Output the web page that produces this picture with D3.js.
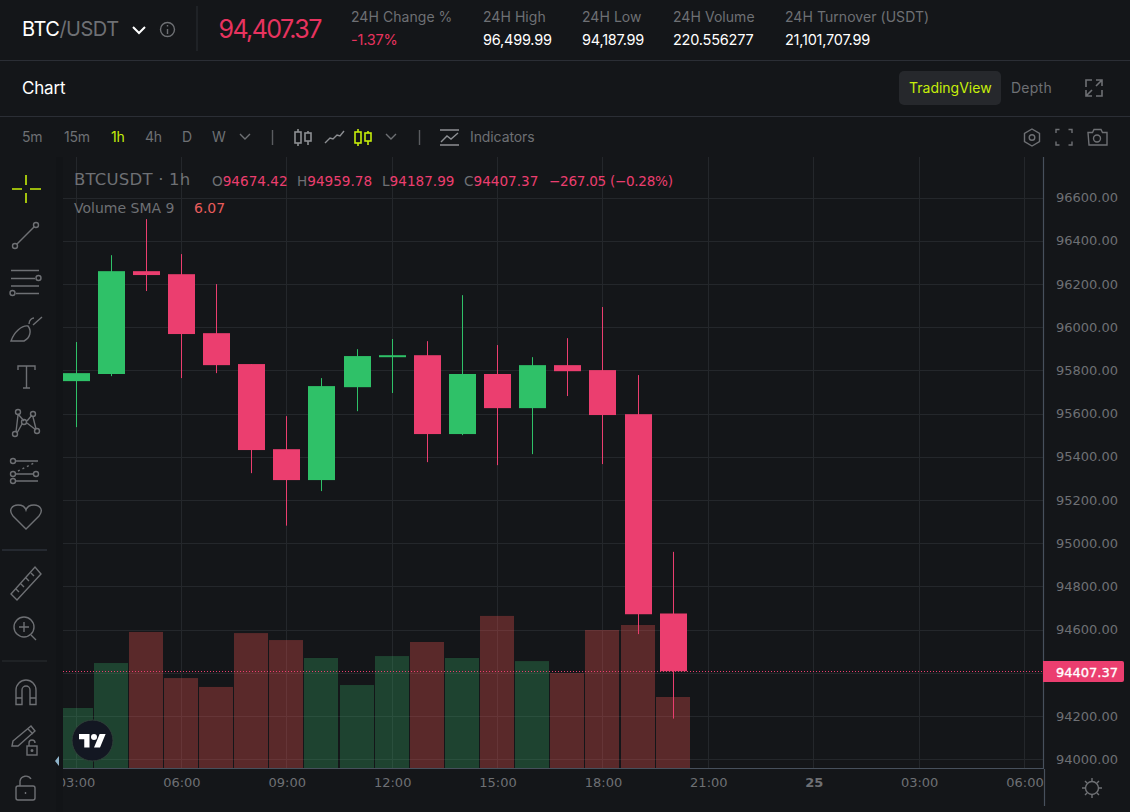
<!DOCTYPE html>
<html>
<head>
<meta charset="utf-8">
<script src="https://cdn.jsdelivr.net/npm/d3@7"></script>
<style>
  html, body { margin: 0; padding: 0; background: #141619; overflow: hidden; }
  svg { display: block; }
  .ui { font-family: Inter, "Noto Sans", sans-serif; }
  .tv { font-family: "DejaVu Sans", sans-serif; white-space: pre; }
  .icon { fill: none; stroke: #6e7074; stroke-width: 1.4; }
</style>
</head>
<body>
<div id="chart"></div>
<script>
// Candle data, one entry per hour starting at 03:00
var opens  = [95750, 95783, 96259, 96245, 95972, 95829, 95435, 95292, 95722, 95861, 95870, 95505, 95783, 95625, 95824, 95801, 95597, 94674.42];
var highs  = [95931, 96333, 96499.99, 96338, 96199, 95829, 95588, 95764, 95898, 95945, 95935, 96148, 95917, 95861, 95949, 96093, 95778, 94959.78];
var lows   = [95537, 95773, 96167, 95764, 95787, 95324, 95081, 95241, 95611, 95695, 95375, 95500, 95361, 95412, 95681, 95366, 94579, 94187.99];
var closes = [95787, 96259, 96241, 95968, 95824, 95431, 95292, 95727, 95866, 95870, 95505, 95783, 95625, 95824, 95796, 95593, 94671, 94407.37];
var volumes = [3.11, 5.44, 7.05, 4.66, 4.20, 6.99, 6.63, 5.70, 4.30, 5.80, 6.53, 5.70, 7.88, 5.54, 4.92, 7.15, 7.41, 3.68];

var priceTicks = [94000, 94200, 94400, 94600, 94800, 95000, 95200, 95400, 95600, 95800, 96000, 96200, 96400, 96600];
var timeTicks = [0, 3, 6, 9, 12, 15, 18, 21, 24, 27];
var timeLabels = ["03:00", "06:00", "09:00", "12:00", "15:00", "18:00", "21:00", "25", "03:00", "06:00"];
var lastPrice = 94407.37;

var headerStats = ["24H Change %", "24H High", "24H Low", "24H Volume", "24H Turnover (USDT)"];
var headerValues = ["-1.37%", "96,499.99", "94,187.99", "220.556277", "21,101,707.99"];
var intervals = ["5m", "15m", "1h", "4h", "D", "W"];
var ohlcKeys = ["O", "H", "L", "C"];
var ohlcValues = ["94674.42", "94959.78", "94187.99", "94407.37"];

var green = "#2fc168";
var red = "#eb3e6f";
var lime = "#c6ee0a";
var gray = "#6e7074";
var bg = "#141619";

var svgWidth = 1130;
var svgHeight = 812;
var pane = { left: 63, right: 1043, top: 157, bottom: 768 };

var svg = d3.select("#chart")
  .append("svg")
  .attr("width", svgWidth)
  .attr("height", svgHeight);

svg.append("rect").attr("width", svgWidth).attr("height", svgHeight).attr("fill", bg);

svg.append("defs").append("clipPath").attr("id", "paneClip")
  .append("rect")
  .attr("x", pane.left).attr("y", pane.top)
  .attr("width", pane.right - pane.left).attr("height", svgHeight - pane.top);

// Scales
var xScale = d3.scaleLinear().domain([0, 27]).range([76, 1024.5]);
var yScale = d3.scaleLinear().domain([94000, 96600]).range([759.2, 197.5]);
var volScale = d3.scaleLinear().domain([0, 10]).range([pane.bottom, pane.bottom - 193]);

// snap to the pixel grid so wicks and gridlines stay one pixel wide
function px(i) {
  return Math.floor(xScale(i)) + 0.5;
}

var bodyWidth = 27;
var volWidth = 34;

// ---- header ----
function label(parent, x, y, str, size, fill, cls, spacing) {
  return parent.append("text")
    .attr("class", cls || "ui")
    .attr("x", x).attr("y", y)
    .attr("font-size", size)
    .attr("fill", fill)
    .attr("letter-spacing", spacing || 0)
    .text(str);
}

var head = svg.append("g");
var pair = label(head, 22, 36, "BTC", 20, "#ffffff", "ui", -0.5);
pair.append("tspan").attr("fill", gray).text("/USDT");
head.append("path").attr("class", "icon").style("stroke", "#fff").style("stroke-width", 2)
  .attr("d", "M133 27l6 6l6 -6");
head.append("circle").attr("class", "icon").attr("cx", 167.5).attr("cy", 29.5).attr("r", 7);
head.append("path").attr("class", "icon").attr("d", "M167.5 29v5M167.5 25v1.6");
head.append("line").attr("x1", 197).attr("x2", 197).attr("y1", 6).attr("y2", 51).attr("stroke", "#2a2e35");
label(head, 218.5, 38, "94,407.37", 25, "#e8335f", "ui", -1.6);

var statX = [351, 483, 582, 673, 785];
headerStats.forEach(function(s, i) {
  label(head, statX[i], 22, s, 14, gray, "ui", 0.05);
  label(head, statX[i], 45, headerValues[i], 14.5, i === 0 ? "#e8335f" : "#ffffff", "ui", -0.22);
});

[60.5, 116.5].forEach(function(y) {
  svg.append("line").attr("x1", 0).attr("x2", svgWidth).attr("y1", y).attr("y2", y).attr("stroke", "#2b2e35");
});

label(svg, 22, 94, "Chart", 17, "#ffffff", "ui", -0.2);
svg.append("rect").attr("x", 899).attr("y", 71).attr("width", 102).attr("height", 34).attr("rx", 5).attr("fill", "#26282c");
label(svg, 909, 93, "TradingView", 14, lime, "ui", 0);
label(svg, 1011, 93, "Depth", 14, gray, "ui", 0.25);
svg.append("path").attr("class", "icon").style("stroke-width", 1.6)
  .attr("d", "M1086 87v-7h6M1096 80h6v6M1102 80l-6 6M1086 90v6h6M1086 96l6 -6M1096 96h6v-6");

// ---- interval toolbar ----
var intervalX = [22, 64, 111, 145, 182, 212];
intervals.forEach(function(s, i) {
  label(svg, intervalX[i], 142, s, 14, s === "1h" ? lime : gray, "ui", -0.2);
});

var bar = svg.append("g").attr("class", "icon");
bar.append("path").attr("d", "M240 134l5 5l5 -5M386 134l5 5l5 -5");
bar.append("path").style("stroke", "#5a5c60").attr("d", "M272.5 130v15M419.5 130v15");
// candle style icons
function candleIcon(x, color) {
  var g = bar.append("g").style("stroke", color).style("stroke-width", 1.6);
  g.append("path").attr("d", "M" + (x + 3) + " 129v17M" + (x + 13) + " 131v14");
  g.append("rect").attr("x", x).attr("y", 132).attr("width", 6).attr("height", 11).attr("fill", bg);
  g.append("rect").attr("x", x + 10).attr("y", 133).attr("width", 6).attr("height", 8).attr("fill", bg);
}
candleIcon(295, "#8d8f93");
candleIcon(355, lime);
bar.append("path").style("stroke", "#8d8f93").attr("d", "M325 143l5 -5l3 1l4 -4l3 1l4 -5");
bar.append("path").style("stroke", "#8d8f93").attr("d", "M440 130h19M440 145h19M441 142l6 -6l4 3l7 -6");
label(svg, 470, 142, "Indicators", 14, gray, "ui", -0.1);
// settings, fullscreen, camera
bar.append("path").attr("d", "M1032 129l7.5 4.3v8.4l-7.5 4.3l-7.5 -4.3v-8.4z");
bar.append("circle").attr("cx", 1032).attr("cy", 137.5).attr("r", 2.8);
bar.append("path").attr("d", "M1056 133v-3.5h3.5M1068.5 129.5h3.5v3.5M1072 141.5v3.5h-3.5M1059.5 145h-3.5v-3.5");
bar.append("path").attr("d", "M1088 132.5h4.5l1.5 -3h7l1.5 3h4.5v12.5h-18z");
bar.append("circle").attr("cx", 1097).attr("cy", 138.5).attr("r", 3.5);

// ---- chart pane ----
var grid = svg.append("g").attr("stroke", "#24272b");
grid.selectAll(".h")
  .data(priceTicks)
  .enter()
  .append("line")
  .attr("x1", pane.left).attr("x2", pane.right)
  .attr("y1", d => Math.round(yScale(d)) + 0.5)
  .attr("y2", d => Math.round(yScale(d)) + 0.5);
grid.selectAll(".v")
  .data(timeTicks)
  .enter()
  .append("line")
  .attr("x1", d => px(d))
  .attr("x2", d => px(d))
  .attr("y1", pane.top).attr("y2", pane.bottom);

var plot = svg.append("g").attr("clip-path", "url(#paneClip)");
var isUp = opens.map((o, i) => closes[i] >= o);

plot.selectAll(".vol")
  .data(volumes)
  .enter()
  .append("rect")
  .attr("x", (d, i) => px(i) - 0.5 - volWidth / 2)
  .attr("y", d => volScale(d))
  .attr("width", volWidth)
  .attr("height", d => volScale(0) - volScale(d))
  .attr("fill", (d, i) => isUp[i] ? "rgba(60,190,110,0.27)" : "rgba(239,83,80,0.32)");

plot.append("line")
  .attr("x1", pane.left).attr("x2", pane.right)
  .attr("y1", Math.round(yScale(lastPrice)) + 0.5)
  .attr("y2", Math.round(yScale(lastPrice)) + 0.5)
  .attr("stroke", red)
  .attr("stroke-dasharray", "1 2");

plot.selectAll(".wick")
  .data(opens)
  .enter()
  .append("line")
  .attr("x1", (d, i) => px(i))
  .attr("x2", (d, i) => px(i))
  .attr("y1", (d, i) => yScale(highs[i]))
  .attr("y2", (d, i) => yScale(lows[i]))
  .attr("stroke", (d, i) => isUp[i] ? green : red);

plot.selectAll(".body")
  .data(opens)
  .enter()
  .append("rect")
  .attr("x", (d, i) => px(i) - bodyWidth / 2)
  .attr("y", (d, i) => yScale(Math.max(d, closes[i])))
  .attr("width", bodyWidth)
  .attr("height", (d, i) => Math.max(2, Math.abs(yScale(d) - yScale(closes[i]))))
  .attr("fill", (d, i) => isUp[i] ? green : red);

// ---- axes ----
// 94400 sits behind the last price tag, so it gets no label
var priceAxis = d3.axisRight(yScale)
  .tickValues(priceTicks.filter(d => d !== 94400))
  .tickSize(0).tickPadding(13)
  .tickFormat(d => d3.format(".2f")(d));
var priceG = svg.append("g").attr("class", "tv")
  .attr("transform", `translate(${pane.right}, 0)`)
  .call(priceAxis);
priceG.select(".domain").remove();
priceG.selectAll("text").attr("fill", gray).attr("font-size", 13).attr("font-family", "DejaVu Sans");

var timeAxis = d3.axisBottom(xScale).tickValues(timeTicks).tickSize(0).tickPadding(10)
  .tickFormat((d, i) => timeLabels[i]);
var timeG = svg.append("g").attr("class", "tv")
  .attr("transform", `translate(0, ${pane.bottom})`)
  .call(timeAxis);
timeG.select(".domain").remove();
timeG.selectAll("text")
  .attr("fill", gray).attr("font-size", 13).attr("font-family", "DejaVu Sans")
  .attr("font-weight", (d, i) => timeLabels[i] === "25" ? "bold" : "normal");

svg.append("path").attr("fill", "none").attr("stroke", "#47505c").attr("stroke-width", 1.2)
  .attr("d", `M${pane.left} ${pane.bottom + 0.5}H${pane.right + 0.5}V${pane.top}M${pane.right + 1.5} ${pane.bottom + 1}V806`);

// last price tag
var tagY = Math.round(yScale(lastPrice)) + 0.5;
svg.append("path").attr("fill", red)
  .attr("d", `M${pane.right} ${tagY - 10.5}h79a2 2 0 0 1 2 2v17a2 2 0 0 1 -2 2h-79z`);
svg.append("text").attr("class", "tv")
  .attr("x", 1056).attr("y", tagY + 5)
  .attr("font-size", 13).attr("fill", "#ffffff")
  .attr("stroke", "#ffffff").attr("stroke-width", 0.35)
  .text(d3.format(".2f")(lastPrice));

// gear at the axis corner
var gear = svg.append("g").attr("class", "icon");
gear.append("circle").attr("cx", 1092).attr("cy", 788).attr("r", 6.5);
gear.append("path").attr("d", "M1092 778v3M1092 795v3M1082 788h3M1099 788h3M1085 781l2 2M1097 793l2 2M1099 781l-2 2M1087 793l-2 2");

// ---- legend ----
label(svg, 74, 185, "BTCUSDT · 1h", 16.5, gray, "tv", 0.2);
var ohlcX = [212, 297, 382, 464];
ohlcKeys.forEach(function(k, i) {
  var t = label(svg, ohlcX[i], 186, k, 13.6, gray, "tv", 0);
  t.append("tspan").attr("fill", red).text(ohlcValues[i]);
});
label(svg, 549, 186, "\u2212267.05 (\u22120.28%)", 13.6, red, "tv", -0.3);
label(svg, 74, 213, "Volume SMA 9", 14, gray, "tv", 0);
label(svg, 194, 213, "6.07", 14, "#e85c5c", "tv", 0);

// TradingView badge
var badge = svg.append("g");
badge.append("circle").attr("cx", 92.5).attr("cy", 740.5).attr("r", 20.5)
  .attr("fill", "#131722").attr("stroke", "#2e4038");
badge.append("g").attr("transform", "translate(79, 731) scale(0.75)").attr("fill", "#ffffff")
  .call(g => {
    g.append("path").attr("d", "M14 22H7V11H0V4h14v18zM28 22h-8l7.5-18h8L28 22z");
    g.append("circle").attr("cx", 20).attr("cy", 8).attr("r", 4);
  });

// ---- left drawing tools ----
var tools = svg.append("g");
tools.append("rect").attr("x", 0).attr("y", 157).attr("width", 56).attr("height", 655).attr("fill", bg);
tools.append("rect").attr("x", 56).attr("y", 157).attr("width", 7).attr("height", 655).attr("fill", "#121417");
var ic = tools.append("g").attr("class", "icon");
tools.append("path").attr("fill", "none").attr("stroke", lime).attr("stroke-width", 1.6)
  .attr("d", "M12 189h10M30 189h11M26 175v10M26 193v10");
// line
ic.append("path").attr("d", "M17 244L34 227");
ic.append("circle").attr("cx", 15).attr("cy", 246).attr("r", 2.5);
ic.append("circle").attr("cx", 36).attr("cy", 225).attr("r", 2.5);
// fib
ic.append("path").attr("d", "M11 270.5h28M11 278.5h24M11 286h28M16 293.5h23");
ic.append("circle").attr("cx", 38.5).attr("cy", 278).attr("r", 2.5);
ic.append("circle").attr("cx", 12.5).attr("cy", 293).attr("r", 2.5);
// brush
ic.append("path").attr("d", "M11 341C14 332 22 325 28 326C32 331 30 338 24 341ZM29 324c0 -4 3 -6 5 -6M33 325l9 -8");
// text
ic.append("path").attr("d", "M18 370v-4h17v4M26.5 366v22M23 388h7");
// pattern
ic.append("path").attr("d", "M18 414L24 421M32 415L27 421M16 432L18 415M36 429L33 417M17 433L22 424M36 430L27 423");
[[18, 412], [33, 414], [15, 434], [37, 431], [24, 422]].forEach(function(c) {
  ic.append("circle").attr("cx", c[0]).attr("cy", c[1]).attr("r", 2.5);
});
// prediction
ic.append("path").attr("d", "M16 461h22M16 474h17M16 481h22");
ic.append("path").attr("d", "M18 471l18 -9").attr("stroke-dasharray", "2 3");
[[13, 461], [13, 474], [36, 474], [13, 481]].forEach(function(c) {
  ic.append("circle").attr("cx", c[0]).attr("cy", c[1]).attr("r", 2.5);
});
// heart
ic.append("path").attr("d", "M26 529L13 516C8 510 12 505 18 505C22 505 25 507 26 510C27 507 30 505 34 505C40 505 44 510 39 516Z");
ic.append("path").style("stroke", "#2b3038").style("stroke-width", 1.6).attr("d", "M2 550h45");
// ruler
ic.append("path").attr("d", "M11 594L35 567L41 574L17 600ZM16 589l3 3M21 584l3 3M26 578l3 3M31 573l3 3");
// zoom
ic.append("circle").attr("cx", 24).attr("cy", 627).attr("r", 10);
ic.append("path").attr("d", "M24 622v10M19 627h10M31 635l5 5");
ic.append("path").style("stroke", "#2b2e33").style("stroke-width", 1.2).attr("d", "M2 661h45");
// magnet
ic.append("path").attr("d", "M16 704.5V690a10 10 0 0 1 20 0v14.5h-6V690a4 4 0 0 0 -8 0v14.5zM16 698h6M30 698h6");
// pencil with lock
ic.append("path").attr("d", "M13 741L31 726L35 731L18 746L12 746ZM28 729l5 5");
ic.append("rect").attr("x", 27).attr("y", 746).attr("width", 10).attr("height", 9);
ic.append("path").attr("d", "M29 746v-3a3 3 0 0 1 6 0");
ic.append("circle").attr("cx", 32).attr("cy", 750.5).attr("r", 0.8);
// lock
ic.append("rect").attr("x", 16).attr("y", 786).attr("width", 19).attr("height", 14).attr("rx", 2);
ic.append("path").attr("d", "M20 786v-5a6 6 0 0 1 11 -2M25.5 792v2");
// collapse arrow
svg.append("path").attr("fill", "#8fb3c9").attr("d", "M55 761l4 -5v10z");
</script>
</body>
</html>
